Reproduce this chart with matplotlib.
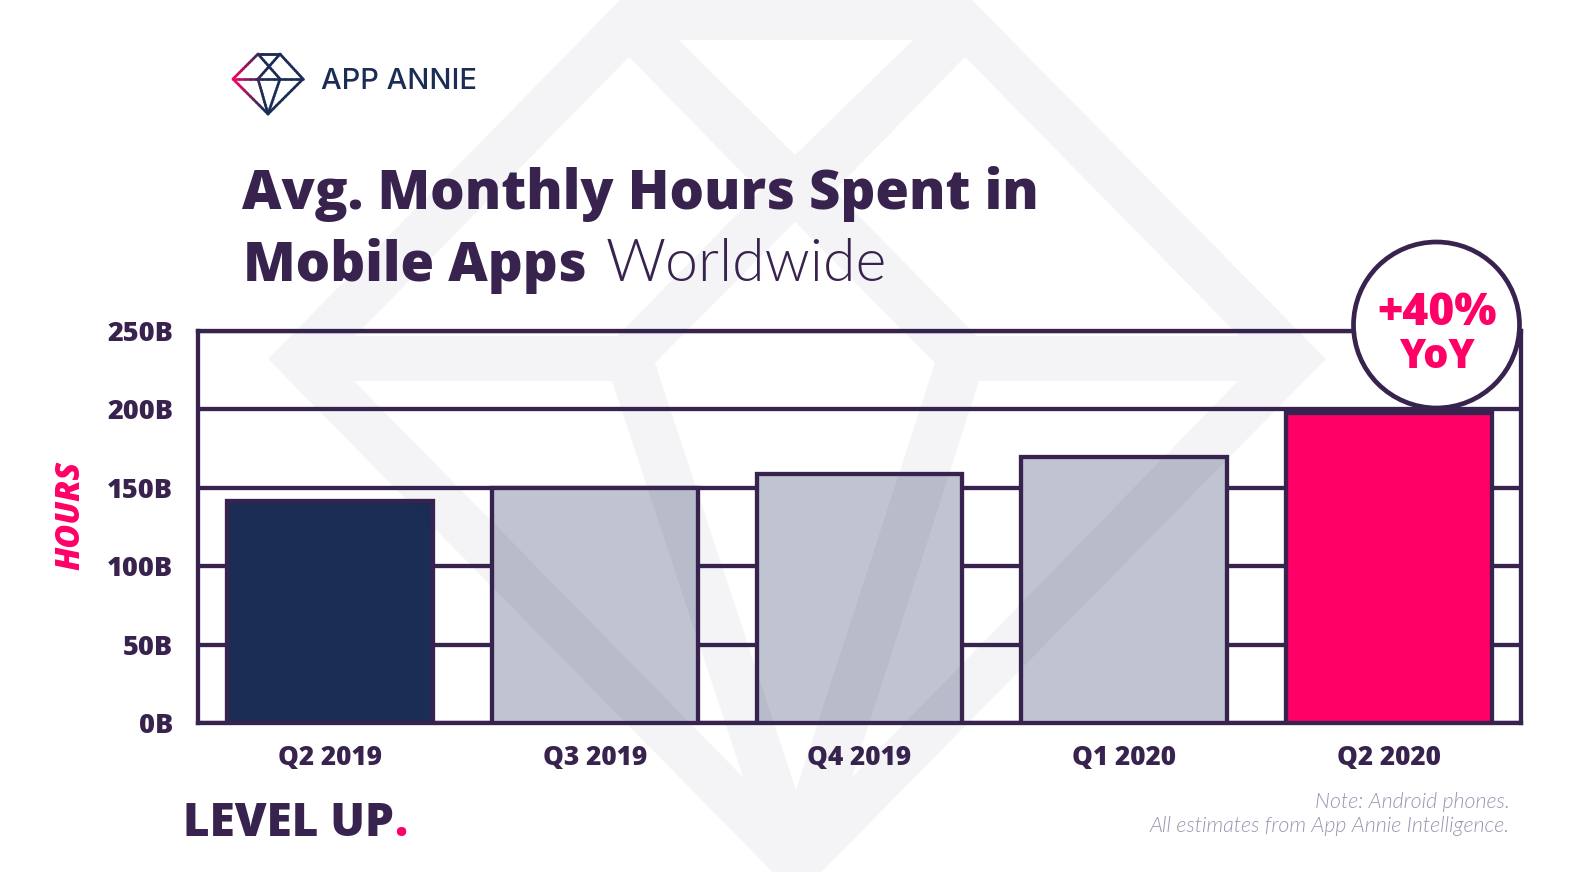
import numpy as np
import matplotlib as mpl
mpl.use("Agg")
import matplotlib.pyplot as plt
from matplotlib.path import Path
from matplotlib.patches import PathPatch, Circle

quarters = ["Q2 2019", "Q3 2019", "Q4 2019", "Q1 2020", "Q2 2020"]
hours = [141.5, 150, 158.5, 169.5, 198]
y_ticks = [0, 50, 100, 150, 200, 250]
y_labels = ["0B", "50B", "100B", "150B", "200B", "250B"]

DARK = "#38234f"
NAVY = "#1b2d55"
GREY = "#c0c4d1"
PINK = "#ff0066"
NOTE = "#9496b0"
FONT = "Open Sans"
LIGHT = "Lato"

W, H = 1594, 872
bar_colors = [NAVY, GREY, GREY, GREY, PINK]


def signed_area(poly):
    xs, ys = zip(*poly)
    return 0.5 * (np.dot(xs, np.roll(ys, 1)) - np.dot(ys, np.roll(xs, 1)))


fig = plt.figure(figsize=(W / 100, H / 100), dpi=100, facecolor="white")

# chart axes, placed in pixels
L, R, T, B = 198, 1521, 331, 723
ax = fig.add_axes([L / W, 1 - B / H, (R - L) / W, (B - T) / H], zorder=1)
ax.bar(range(len(quarters)), hours, width=0.778, color=bar_colors,
       edgecolor=DARK, linewidth=3.1, zorder=3)
ax.set_xlim(-0.5, 4.5)
ax.set_ylim(0, 250)
ax.set_yticks(y_ticks)
ax.set_yticklabels(y_labels, fontfamily=FONT, fontweight=800, fontsize=19.5, color=DARK)
ax.set_xticks(range(len(quarters)))
ax.set_xticklabels(quarters, fontfamily=FONT, fontweight=800, fontsize=18.8, color=DARK)
ax.tick_params(axis="both", length=0)
ax.tick_params(axis="y", pad=18)
ax.tick_params(axis="x", pad=16)
ax.grid(axis="y", color=DARK, linewidth=3.1, zorder=1)
ax.set_axisbelow(True)
for side in ["left", "right", "bottom", "top"]:
    ax.spines[side].set_color(DARK)
    ax.spines[side].set_linewidth(3.1)

# overlay in pixel coordinates for watermark, logo and text
px = fig.add_axes([0, 0, 1, 1], zorder=2)
px.set_xlim(0, W)
px.set_ylim(H, 0)
px.axis("off")
px.patch.set_alpha(0)

# diamond watermark
outer = [(620, 0), (972, 0), (1326, 359), (797, 897), (268, 359)]
holes = [
    [(679, 40), (913, 40), (795, 155)],
    [(629, 57), (760, 191), (617, 336), (355, 336)],
    [(965, 57), (834, 191), (977, 336), (1239, 336)],
    [(795, 222), (935, 363), (796, 790), (655, 363)],
    [(354, 381), (612, 381), (743, 777)],
    [(1238, 381), (979, 381), (852, 777)],
]
verts, codes = [], []
for poly in [outer] + holes:
    # holes have to wind against the outline
    if poly is not outer and signed_area(poly) * signed_area(outer) > 0:
        poly = poly[::-1]
    verts += poly + [poly[0]]
    codes += [Path.MOVETO] + [Path.LINETO] * (len(poly) - 1) + [Path.CLOSEPOLY]
px.add_patch(PathPatch(Path(verts, codes), facecolor="#202848", edgecolor="none", alpha=0.048))

# logo, gradient from pink at the left tip to navy
logo_lines = [
    [(233, 79), (258, 54), (280, 54), (303, 79), (268, 114), (233, 79)],
    [(233, 79), (303, 79)],
    [(258, 54), (280, 79)],
    [(280, 54), (258, 79)],
    [(258, 79), (268, 114), (280, 79)],
]
pink_rgb = np.array(mpl.colors.to_rgb(PINK))
navy_rgb = np.array(mpl.colors.to_rgb(NAVY))
for line in logo_lines:
    for (x0, y0), (x1, y1) in zip(line[:-1], line[1:]):
        xs = np.linspace(x0, x1, 13)
        ys = np.linspace(y0, y1, 13)
        for i in range(12):
            t = min(max(((xs[i] + xs[i + 1]) / 2 - 233) / 30, 0), 1)
            px.plot(xs[i:i + 2], ys[i:i + 2], color=pink_rgb * (1 - t) + navy_rgb * t,
                    lw=1.9, solid_capstyle="round")
px.text(321, 89, "APP ANNIE", family="Inter", fontweight=500, fontsize=21, color=NAVY, va="baseline")

# title
px.text(242, 209, "Avg. Monthly Hours Spent in", family=FONT, fontweight=800, fontsize=39.2, color=DARK, va="baseline")
px.text(243, 281, "Mobile Apps", family=FONT, fontweight=800, fontsize=39.2, color=DARK, va="baseline")
px.text(606, 281, "Worldwide", family=LIGHT, fontweight=300, fontsize=42.5, color=DARK, va="baseline")

# callout
px.add_patch(Circle((1436.5, 325), 83, facecolor="white", edgecolor=DARK, linewidth=3.4, zorder=5))
px.text(1437, 325, "+40%", family=FONT, fontweight=800, fontsize=32, color=PINK, ha="center", va="baseline", zorder=6)
px.text(1437, 368, "YoY", family=FONT, fontweight=800, fontsize=28.5, color=PINK, ha="center", va="baseline", zorder=6)

# axis title and footer
px.text(70.5, 515, "HOURS", family=FONT, fontweight=800, style="italic", fontsize=23.5, color=PINK,
        rotation=90, ha="center", va="center")
px.text(183, 836, "LEVEL UP", family=FONT, fontweight=800, fontsize=33, color=DARK, va="baseline")
px.text(394, 836, ".", family=FONT, fontweight=800, fontsize=33, color=PINK, va="baseline")
px.text(1510, 808, "Note: Android phones.", family=LIGHT, fontweight=300, style="italic", fontsize=15.4,
        color=NOTE, ha="right", va="baseline")
px.text(1510, 832, "All estimates from App Annie Intelligence.", family=LIGHT, fontweight=300, style="italic",
        fontsize=15.4, color=NOTE, ha="right", va="baseline")

fig.savefig("out.png", dpi=100)
